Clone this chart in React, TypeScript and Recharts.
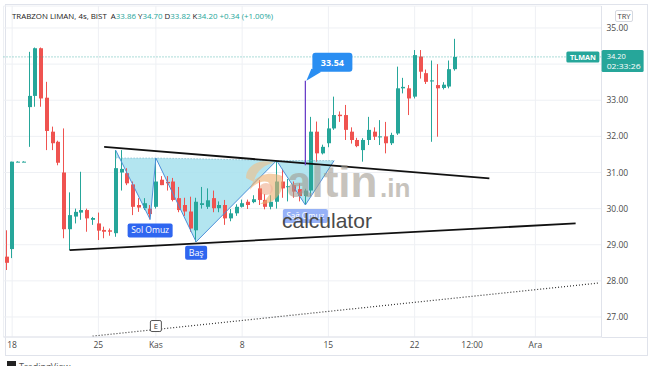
import React from "react";
import {
  ComposedChart,
  Bar,
  Line,
  Area,
  XAxis,
  YAxis,
  CartesianGrid,
  ReferenceLine,
  ReferenceDot,
} from "recharts";

// TLMAN 4h candles; slot -1 is the last bar before 18 Oct
const FIRST_SLOT = -1;
const SLOT_COUNT = 104;

const opens = [
  28.67, 28.88, 31.3, 31.3, 32.81, 33.12, 34.44, 33.07, 32.13, 31.85, 31.0, 29.43, 29.78, 29.89, 29.96, 29.69,
  29.59, 29.41, 29.4, 29.32, 31.0, 30.98, 30.67, 30.1, 30.01, 30.0, 30.05, 30.8, 30.74, 30.75, 30.29, 30.1,
  29.92, 29.4, 30.1, 30.05, 30.29, 30.01, 30.1, 29.73, 29.87, 30.05, 30.19, 30.18, 30.56, 30.24, 30.05, 30.19,
  30.75, 30.6, 30.65, 30.54, 30.35, 30.5, 32.13, 31.53, 31.81, 32.22, 32.6, 32.59, 32.13, 31.9, 31.62, 31.9,
  32.13, 31.98, 32.0, 31.81, 32.08, 33.33, 33.33, 33.1, 34.21, 33.75, 33.52, 33.42, 33.34, 33.38, 33.86,
];
const highs = [
  29.4, 31.3, 31.31, 31.31, 34.34, 34.46, 34.46, 33.51, 32.27, 31.88, 32.22, 30.45, 30.0, 31.02, 30.0, 29.77,
  29.89, 29.5, 29.45, 31.62, 31.62, 31.12, 30.75, 30.29, 30.29, 30.1, 31.4, 30.9, 30.9, 30.85, 30.6, 30.3,
  30.33, 30.3, 30.6, 30.56, 30.5, 30.2, 30.24, 29.99, 30.12, 30.25, 30.25, 30.37, 30.79, 30.4, 30.37, 31.31,
  31.1, 30.82, 30.75, 30.7, 30.55, 32.54, 32.41, 31.77, 32.5, 33.1, 32.69, 32.87, 32.25, 31.96, 31.95, 32.54,
  32.25, 32.45, 32.4, 32.1, 33.93, 33.62, 33.42, 34.39, 34.39, 33.85, 34.1, 34.0, 33.5, 34.1, 34.7,
];
const lows = [
  28.3, 28.63, 31.29, 31.29, 31.71, 32.82, 32.82, 31.62, 31.62, 31.2, 29.18, 28.85, 29.59, 29.69, 29.36, 29.55,
  29.13, 29.18, 29.25, 29.22, 30.5, 30.65, 29.82, 29.91, 29.96, 29.7, 30.0, 30.65, 30.5, 30.2, 29.9, 29.8,
  29.36, 29.08, 30.0, 29.99, 29.9, 29.9, 29.55, 29.65, 29.8, 30.03, 29.99, 30.15, 30.1, 29.98, 29.98, 30.0,
  30.3, 30.2, 30.3, 30.2, 30.1, 30.33, 31.3, 31.5, 31.7, 32.18, 32.4, 31.9, 31.8, 31.7, 31.3, 31.76,
  31.9, 31.76, 31.53, 31.76, 32.04, 33.19, 32.59, 33.05, 33.6, 33.45, 31.85, 31.99, 33.3, 33.33, 33.82,
];
const closes = [
  28.5, 31.3, 31.3, 31.3, 33.12, 34.44, 33.05, 32.15, 31.81, 31.27, 29.43, 29.82, 29.91, 29.96, 29.73, 29.74,
  29.39, 29.36, 29.36, 31.12, 31.1, 30.7, 30.05, 30.03, 30.15, 29.85, 30.75, 30.65, 30.7, 30.24, 29.96, 29.92,
  29.45, 30.19, 30.15, 30.23, 30.01, 30.1, 29.73, 29.87, 30.05, 30.15, 30.1, 30.26, 30.24, 30.05, 30.19, 30.75,
  30.56, 30.62, 30.47, 30.35, 30.5, 32.13, 31.53, 31.71, 32.22, 32.59, 32.56, 32.18, 31.9, 31.73, 31.9, 32.18,
  31.99, 32.0, 31.81, 32.04, 33.33, 33.37, 33.05, 34.25, 33.79, 33.51, 33.55, 33.33, 33.43, 33.86, 34.2,
];

// time axis
const timeTicks = [0, 15, 25, 40, 55, 70, 80, 91];
const timeLabels = ["18", "25", "Kas", "8", "15", "22", "12:00", "Ara"];
const priceTicks = [27, 28, 29, 30, 31, 32, 33, 34, 35];

// inverse head & shoulders drawing
const patternSlots = [18, 24, 25, 32, 46, 51, 56];
const patternPrices = [31.62, 29.7, 31.4, 29.08, 31.33, 30.1, 31.33];
const necklinePrices = [31.4, 31.4, 31.4, 31.38, 31.33, 31.33, 31.33];
const patternTags = ["Sol Omuz", "Baş", "Sağ Omuz"];
const patternTagSlots = [24, 32, 51];
const patternTagPrices = [29.7, 29.08, 30.1];

// trend lines
const upperTrendSlots = [16, 83];
const upperTrendPrices = [31.71, 30.84];
const lowerTrendSlots = [10, 98];
const lowerTrendPrices = [28.85, 29.59];
const dottedTrendSlots = [14, 102];
const dottedTrendPrices = [26.47, 27.94];

// price note
const noteSlot = 51;
const noteFrom = 31.2;
const noteTo = 33.54;

// legend values (open, high, low, close, change)
const legendTitle = "TRABZON LIMAN, 4s, BIST";
const legendKeys = ["A", "Y", "D", "K"];
const legendValues = [33.86, 34.7, 33.82, 34.2];
const legendChange = "+0.34 (+1.00%)";

const lastPrice = 34.2;
const countdown = "02:33:26";

const GREEN = "#26a69a";
const RED = "#ef5350";
const FONT = "'Open Sans', 'Liberation Sans', sans-serif";

const rows = Array.from({ length: SLOT_COUNT }, (_, k) => {
  const slot = FIRST_SLOT + k;
  const row: any = { slot };
  if (k < opens.length) {
    row.o = opens[k];
    row.h = highs[k];
    row.l = lows[k];
    row.c = closes[k];
    row.range = [lows[k], highs[k]];
  }
  const p = patternSlots.indexOf(slot);
  if (p >= 0) {
    row.zig = patternPrices[p];
    row.neck = necklinePrices[p];
    row.band = [patternPrices[p], necklinePrices[p]];
  }
  return row;
});

const Candle = (props: any) => {
  const { x, y, width, height, payload } = props;
  if (!payload || payload.range == null) return null;
  const { o, h, l, c } = payload;
  const top = Math.min(y, y + height);
  const bottom = Math.max(y, y + height);
  const span = h - l;
  const py = (v: number) => (span > 0 ? top + ((h - v) / span) * (bottom - top) : top);
  const color = c >= o ? GREEN : RED;
  const rx = Math.round(x);
  const bodyTop = py(Math.max(o, c));
  const bodyBottom = py(Math.min(o, c));
  return (
    <g>
      <line x1={rx + 1.5} x2={rx + 1.5} y1={top} y2={bottom} stroke={color} strokeWidth={1} />
      <rect x={rx} y={bodyTop} width={width} height={Math.max(1, bodyBottom - bodyTop)} fill={color} />
    </g>
  );
};

// price scale label; the level under the last-price tag stays unlabelled
const PriceTick = (props: any) => {
  const { x, y, payload } = props;
  const v = payload?.value;
  if (v == null || Math.abs(v - lastPrice) < 0.4) return null;
  return (
    <text x={x} y={y} dy="0.355em" fontSize={8.5} fill="#4a4a4a" fontFamily={FONT} textAnchor="start">
      {Number(v).toFixed(2)}
    </text>
  );
};

const makeTag = (text: string, faded: boolean) => (props: any) => {
  const { cx, cy } = props;
  const w = text.length <= 3 ? 22 : 45;
  return (
    <g opacity={faded ? 0.5 : 1}>
      <rect x={cx - w / 2} y={cy + 4} width={w} height={14} rx={2} fill="#2f66f0" />
      <text
        x={cx}
        y={cy + 14}
        textAnchor="middle"
        fontSize={8.5}
        fill="#fff"
        fontFamily={FONT}
        textLength={w - 7}
        lengthAdjust="spacingAndGlyphs"
      >
        {text}
      </text>
    </g>
  );
};

const PriceNote = (props: any) => {
  const { cx, cy } = props;
  return (
    <g>
      <polygon points={`${cx + 6},${cy - 12} ${cx + 16},${cy - 9} ${cx + 1},${cy}`} fill="#2a8ef2" />
      <rect x={cx + 7} y={cy - 28} width={40} height={19} rx={3} fill="#2a8ef2" />
      <text x={cx + 27} y={cy - 15} textAnchor="middle" fontSize={9} fontWeight="bold" fill="#fff" fontFamily={FONT}>
        {noteTo.toFixed(2)}
      </text>
    </g>
  );
};

const EventMark = (props: any) => {
  const { cx, cy } = props;
  return (
    <g>
      <rect x={cx - 5.5} y={cy - 5.5} width={11} height={11} rx={1.5} fill="#fff" stroke="#555" strokeWidth={1} />
      <text x={cx} y={cy + 3} textAnchor="middle" fontSize={7.5} fill="#333" fontFamily={FONT}>
        E
      </text>
    </g>
  );
};

const SymbolTag = (props: any) => {
  const { cx, cy } = props;
  return (
    <g>
      <rect x={cx - 15} y={cy - 5.5} width={33} height={11} rx={1.5} fill={GREEN} />
      <text
        x={cx + 1.5}
        y={cy + 3}
        textAnchor="middle"
        fontSize={7.5}
        fontWeight="bold"
        fill="#fff"
        fontFamily={FONT}
        textLength={26}
        lengthAdjust="spacingAndGlyphs"
      >
        TLMAN
      </text>
    </g>
  );
};

const LastPriceTag = (props: any) => {
  const { cx, cy } = props;
  const left = cx + 3;
  return (
    <g>
      <rect x={left} y={cy - 7} width={42} height={22} rx={1.5} fill={GREEN} />
      <text x={left + 5} y={cy + 2.5} fontSize={7.5} fill="#fff" fontFamily={FONT}>
        {lastPrice.toFixed(2)}
      </text>
      <text x={left + 5} y={cy + 12} fontSize={7} fill="#fff" fontFamily={FONT} textLength={34} lengthAdjust="spacingAndGlyphs">
        {countdown}
      </text>
    </g>
  );
};

const Watermark = () => (
  <g>
    <g opacity={0.6}>
      <path d="M246 178 C246 164 262 158 274 163 C266 164 256 170 254 182 Z" fill="#f2c088" />
      <path d="M250 190 C252 176 268 170 282 176 C286 192 274 205 260 204 C270 198 274 188 268 182 C262 180 254 184 250 190 Z" fill="#eeb070" />
      <ellipse cx={266} cy={189} rx={7} ry={6} fill="#e98a5a" opacity={0.7} />
    </g>
    <text x={287} y={197} fontSize={44} fontWeight="bold" fill="#a29c92" opacity={0.6} fontFamily="'Liberation Sans', Arial, sans-serif">
      altin
    </text>
    <text x={380} y={197} fontSize={26} fontWeight="bold" fill="#a29c92" opacity={0.6} fontFamily="'Liberation Sans', Arial, sans-serif">
      .in
    </text>
    <text x={282} y={228} fontSize={21} fill="#4a4a4a" fontFamily="'Liberation Sans', Arial, sans-serif">
      calculator
    </text>
  </g>
);

export default function App() {
  return (
    <div style={{ position: "absolute", left: 0, top: 0, width: 654, height: 366, background: "#fff", overflow: "hidden" }}>
      <svg width={654} height={366} style={{ position: "absolute", left: 0, top: 0 }}>
        <rect x={5.5} y={4.5} width={642} height={351} fill="#fff" stroke="#e0e3eb" />
      </svg>
      <div style={{ position: "absolute", left: 0, top: 0 }}>
        <ComposedChart
          width={654}
          height={366}
          data={rows}
          margin={{ top: 6, right: 0, bottom: 0, left: 3.5 }}
        >
          <CartesianGrid stroke="#eef0f4" />
          <XAxis
            dataKey="slot"
            type="category"
            ticks={timeTicks}
            interval={0}
            tickFormatter={(v: any) => timeLabels[timeTicks.indexOf(v)] ?? ""}
            height={29}
            tickSize={0}
            tickMargin={5}
            axisLine={{ stroke: "#e0e3eb" }}
            tick={{ fontSize: 8.5, fill: "#4a4a4a", fontFamily: FONT }}
          />
          <YAxis
            orientation="right"
            domain={[26.446, 35.609]}
            allowDataOverflow
            ticks={priceTicks}
            interval={0}
            width={52.5}
            tickSize={0}
            tickMargin={5}
            axisLine={{ stroke: "#e0e3eb" }}
            tick={<PriceTick />}
          />
          <Area
            dataKey="band"
            type="linear"
            connectNulls
            stroke="none"
            fill="#a6e0ed"
            fillOpacity={0.85}
            isAnimationActive={false}
          />
          <Bar dataKey="range" barSize={4} shape={<Candle />} isAnimationActive={false} />
          <Line
            dataKey="neck"
            type="linear"
            connectNulls
            dot={false}
            stroke="#7fb4c8"
            strokeWidth={1}
            strokeDasharray="1 2"
            isAnimationActive={false}
          />
          <Line
            dataKey="zig"
            type="linear"
            connectNulls
            dot={false}
            stroke="#4d8fd8"
            strokeWidth={1}
            isAnimationActive={false}
          />
          <ReferenceLine y={lastPrice} stroke={GREEN} strokeOpacity={0.75} strokeDasharray="1 2" />
          <ReferenceLine
            segment={[
              { x: upperTrendSlots[0], y: upperTrendPrices[0] },
              { x: upperTrendSlots[1], y: upperTrendPrices[1] },
            ]}
            stroke="#111"
            strokeWidth={1.8}
          />
          <ReferenceLine
            segment={[
              { x: lowerTrendSlots[0], y: lowerTrendPrices[0] },
              { x: lowerTrendSlots[1], y: lowerTrendPrices[1] },
            ]}
            stroke="#111"
            strokeWidth={1.8}
          />
          <ReferenceLine
            segment={[
              { x: dottedTrendSlots[0], y: dottedTrendPrices[0] },
              { x: dottedTrendSlots[1], y: dottedTrendPrices[1] },
            ]}
            stroke="#333"
            strokeWidth={1.2}
            strokeDasharray="1 2"
          />
          <ReferenceLine
            segment={[
              { x: noteSlot, y: noteFrom },
              { x: noteSlot, y: noteTo },
            ]}
            stroke="#6a3fc8"
            strokeWidth={1.3}
          />
          <ReferenceDot x={noteSlot} y={noteTo} r={0} shape={PriceNote} ifOverflow="visible" />
          {patternTags.map((t, i) => (
            <ReferenceDot
              key={t}
              x={patternTagSlots[i]}
              y={patternTagPrices[i]}
              r={0}
              shape={makeTag(t, i === 2)}
              ifOverflow="visible"
            />
          ))}
          <ReferenceDot x={25} y={26.75} r={0} shape={EventMark} ifOverflow="visible" />
          <ReferenceDot x={99} y={lastPrice} r={0} shape={SymbolTag} ifOverflow="visible" />
          <ReferenceDot x={102} y={lastPrice} r={0} shape={LastPriceTag} ifOverflow="visible" />
        </ComposedChart>
      </div>
      <svg width={654} height={366} style={{ position: "absolute", left: 0, top: 0, pointerEvents: "none" }}>
        <Watermark />
        <line x1={601.5} y1={337.5} x2={647.5} y2={337.5} stroke="#e0e3eb" />
        <text x={12} y={19} fontSize={7.9} fontFamily={FONT} xmlSpace="preserve">
          <tspan fill="#222">{legendTitle + "  "}</tspan>
          {legendKeys.map((k, i) => (
            <React.Fragment key={k}>
              <tspan fill="#222">{k}</tspan>
              <tspan fill={GREEN}>{legendValues[i].toFixed(2) + " "}</tspan>
            </React.Fragment>
          ))}
          <tspan fill={GREEN}>{legendChange}</tspan>
        </text>
        <rect x={615.5} y={10.5} width={17} height={11} rx={1.5} fill="#fff" stroke="#d6d9e0" />
        <text x={624} y={19} textAnchor="middle" fontSize={7.5} fill="#444" fontFamily={FONT}>
          TRY
        </text>
        <rect x={7} y={361} width={9} height={6} fill="#222" />
        <text x={19} y={370} fontSize={9} fill="#555" fontFamily={FONT}>
          TradingView
        </text>
      </svg>
    </div>
  );
}
